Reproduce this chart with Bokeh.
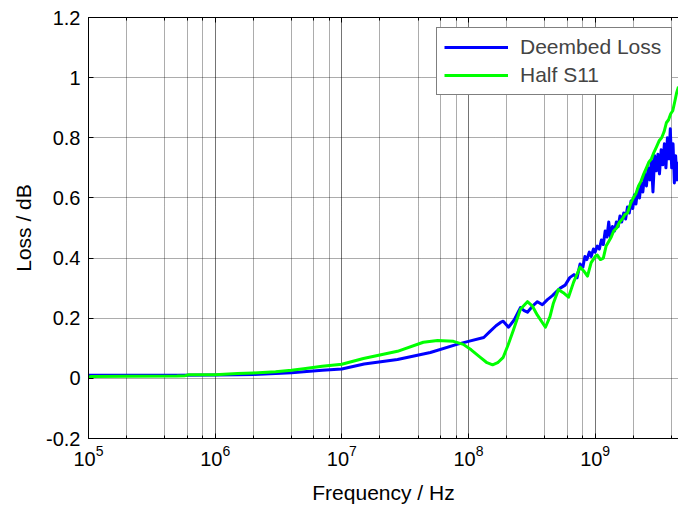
from bokeh.plotting import figure
from bokeh.models import Range1d, LogAxis, LogTicker, FixedTicker, Legend
from bokeh.embed import file_html
from bokeh.resources import INLINE

# ---- data ----
freq_deembed = [1e5, 2e5, 5e5, 1e6, 1.5e6, 2e6, 3e6, 4e6, 5e6, 7e6,
                1e7, 1.5e7, 2.75e7, 5e7, 8.1e7, 1e8, 1.32e8, 1.48e8, 1.65e8, 1.79e8,
                1.88e8, 2.07e8, 2.3e8, 2.57e8, 2.75e8, 2.92e8, 3.2e8, 3.5e8, 3.83e8, 4.2e8,
                4.6e8, 5.0e8, 5.3e8, 5.8e8, 6.3e8, 6.8e8, 7.2e8, 7.6e8, 8.0e8, 8.3e8, 8.6e8,
                9.0e8, 9.3e8, 9.7e8, 1.00e9, 1.04e9, 1.08e9, 1.12e9, 1.16e9, 1.20e9, 1.24e9,
                1.28e9, 1.32e9, 1.37e9, 1.42e9, 1.47e9, 1.52e9, 1.57e9, 1.62e9, 1.68e9, 1.74e9,
                1.80e9, 1.86e9, 1.92e9, 1.98e9, 2.04e9, 2.10e9, 2.17e9, 2.24e9, 2.31e9, 2.38e9,
                2.46e9, 2.54e9, 2.62e9, 2.70e9, 2.78e9, 2.86e9, 2.95e9, 3.04e9, 3.13e9, 3.22e9,
                3.32e9, 3.42e9, 3.52e9, 3.62e9, 3.72e9, 3.82e9, 3.92e9, 4.02e9, 4.12e9, 4.22e9,
                4.32e9, 4.42e9, 4.55e9]
loss_deembed = [0.010, 0.010, 0.010, 0.011, 0.012, 0.013, 0.016, 0.019, 0.022, 0.027,
                0.031, 0.048, 0.063, 0.086, 0.113, 0.123, 0.136, 0.156, 0.175, 0.186,
                0.190, 0.170, 0.195, 0.235, 0.225, 0.220, 0.240, 0.255, 0.245, 0.262,
                0.275, 0.290, 0.300, 0.310, 0.335, 0.345, 0.335, 0.380, 0.370, 0.405, 0.395,
                0.420, 0.405, 0.430, 0.420, 0.440, 0.430, 0.460, 0.445, 0.490, 0.470,
                0.520, 0.470, 0.505, 0.490, 0.520, 0.505, 0.540, 0.520, 0.550, 0.530,
                0.570, 0.550, 0.590, 0.565, 0.610, 0.580, 0.630, 0.600, 0.650, 0.620,
                0.680, 0.640, 0.700, 0.660, 0.725, 0.620, 0.740, 0.690, 0.745, 0.680,
                0.760, 0.710, 0.780, 0.700, 0.800, 0.730, 0.830, 0.700, 0.780, 0.650,
                0.740, 0.660, 0.720]

freq_s11 = [1e5, 1.05e5, 2e5, 5e5, 5.8e5, 6.2e5, 1e6, 1.5e6, 2e6, 3e6,
            4e6, 5e6, 7e6, 1e7, 1.48e7, 2.75e7, 4.4e7, 5.7e7, 7.6e7, 9.1e7,
            1.05e8, 1.24e8, 1.4e8, 1.55e8, 1.7e8, 1.88e8, 2.05e8, 2.26e8, 2.57e8, 2.92e8,
            3.2e8, 3.5e8, 4.05e8, 4.4e8, 4.68e8, 5.13e8, 5.6e8, 6.16e8, 6.76e8, 7.6e8,
            8.2e8, 8.7e8, 9.3e8, 1.00e9, 1.04e9, 1.10e9, 1.16e9, 1.22e9, 1.28e9, 1.34e9,
            1.40e9, 1.48e9, 1.56e9, 1.64e9, 1.72e9, 1.80e9, 1.90e9, 2.00e9, 2.10e9, 2.20e9,
            2.30e9, 2.42e9, 2.54e9, 2.66e9, 2.78e9, 2.90e9, 3.05e9, 3.20e9, 3.35e9, 3.50e9,
            3.65e9, 3.80e9, 3.95e9, 4.10e9, 4.25e9, 4.40e9, 4.55e9]
loss_s11 = [0.004, 0.006, 0.007, 0.008, 0.009, 0.012, 0.012, 0.016, 0.018, 0.022,
            0.027, 0.032, 0.040, 0.047, 0.066, 0.090, 0.120, 0.126, 0.123, 0.113,
            0.095, 0.070, 0.052, 0.045, 0.052, 0.070, 0.110, 0.160, 0.230, 0.255,
            0.240, 0.210, 0.170, 0.205, 0.250, 0.295, 0.285, 0.270, 0.320, 0.370,
            0.355, 0.340, 0.385, 0.405, 0.410, 0.395, 0.400, 0.440, 0.455, 0.470,
            0.490, 0.500, 0.520, 0.530, 0.545, 0.550, 0.580, 0.600, 0.615, 0.640,
            0.655, 0.680, 0.700, 0.720, 0.730, 0.750, 0.770, 0.790, 0.800, 0.820,
            0.850, 0.860, 0.880, 0.890, 0.920, 0.950, 0.970]

y_ticks = [-0.2, 0.0, 0.2, 0.4, 0.6, 0.8, 1.0, 1.2]
y_tick_labels = ["-0.2", "0", "0.2", "0.4", "0.6", "0.8", "1", "1.2"]

FONT = "Liberation Sans"

p = figure(width=678, height=506, x_axis_type="log",
           x_range=Range1d(1e5, 4.55e9), y_range=Range1d(-0.2, 1.2),
           min_border_left=88, min_border_right=0, min_border_top=17, min_border_bottom=67,
           output_backend="svg", toolbar_location=None,
           x_axis_label="Frequency / Hz", y_axis_label="Loss / dB")
p.outline_line_color = None
p.background_fill_color = "white"
p.border_fill_color = "white"

r1 = p.line(freq_deembed, loss_deembed, line_color="#0000ff", line_width=3, line_join="round")
r2 = p.line(freq_s11, loss_s11, line_color="#00ff00", line_width=3, line_join="round")

xt = LogTicker(desired_num_ticks=6)
p.xaxis.ticker = xt
p.yaxis.ticker = FixedTicker(ticks=y_ticks)
p.yaxis.major_label_overrides = dict(zip(y_ticks, y_tick_labels))

for ax in [p.xaxis[0], p.yaxis[0]]:
    ax.axis_line_color = "black"
    ax.axis_line_width = 1
    ax.major_tick_in = 5
    ax.major_tick_out = 0
    ax.minor_tick_in = 3
    ax.minor_tick_out = 0
    ax.major_tick_line_color = "black"
    ax.minor_tick_line_color = "black"
    ax.major_label_text_font = FONT
    ax.major_label_text_font_size = "20px"
    ax.major_label_text_color = "black"
    ax.axis_label_text_font = FONT
    ax.axis_label_text_font_size = "21px"
    ax.axis_label_text_font_style = "normal"
    ax.axis_label_text_color = "black"
p.yaxis.minor_tick_line_color = None
p.yaxis.major_label_standoff = 8
p.yaxis.axis_label_standoff = 8
p.xaxis.major_label_standoff = 6
p.xaxis.axis_label_standoff = 12

top = LogAxis(ticker=xt, major_label_text_font_size="2px", major_label_text_color=None,
              major_label_standoff=0,
              major_tick_in=5, major_tick_out=0, minor_tick_in=3, minor_tick_out=0,
              axis_line_color="black")
p.add_layout(top, "above")

p.xgrid.ticker = xt
p.xgrid.grid_line_color = "black"
p.xgrid.grid_line_alpha = 0.65
p.xgrid.grid_line_dash = "1 1"
p.xgrid.minor_grid_line_color = "black"
p.xgrid.minor_grid_line_alpha = 0.65
p.xgrid.minor_grid_line_dash = "1 1"
p.ygrid.grid_line_color = "black"
p.ygrid.grid_line_alpha = 0.65
p.ygrid.grid_line_dash = "1 1"

legend = Legend(items=[("Deembed Loss", [r1]), ("Half S11", [r2])], location=(348, 343))
legend.label_text_font = FONT
legend.label_text_font_size = "21px"
legend.glyph_width = 64
legend.glyph_height = 20
legend.label_height = 20
legend.label_width = 144
legend.label_standoff = 12
legend.spacing = 4
legend.padding = 7
legend.margin = 0
legend.border_line_color = "black"
legend.border_line_width = 1
legend.background_fill_alpha = 1
p.add_layout(legend, "center")

open("out.html", "w").write(file_html(p, INLINE))
